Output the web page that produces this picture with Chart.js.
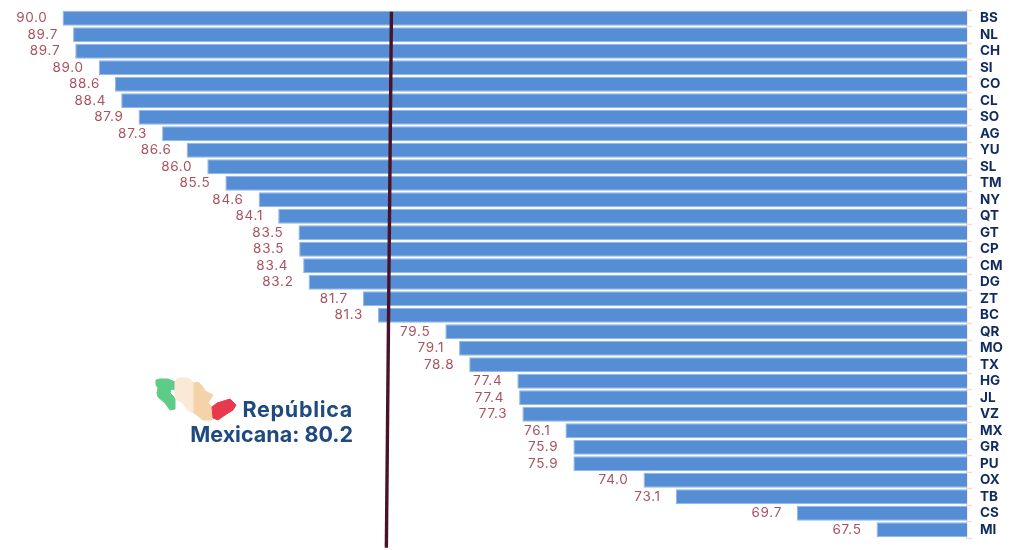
<!DOCTYPE html>
<html>
<head>
<meta charset="utf-8">
<title>República Mexicana</title>
<script src="https://cdn.jsdelivr.net/npm/chart.js@4/dist/chart.umd.min.js"></script>
<style>
html, body { margin: 0; padding: 0; background: #fff; }
#wrap { width: 1013px; height: 550px; }
</style>
</head>
<body>
<div id="wrap"><canvas id="myChart" width="1013" height="550"></canvas></div>
<script>
const categories = ['BS','NL','CH','SI','CO','CL','SO','AG','YU','SL','TM','NY','QT','GT','CP','CM','DG','ZT','BC','QR','MO','TX','HG','JL','VZ','MX','GR','PU','OX','TB','CS','MI'];
// bar lengths
const values = [90.0,89.71,89.65,89.0,88.55,88.38,87.9,87.25,86.57,86.0,85.5,84.58,84.04,83.48,83.46,83.35,83.2,81.7,81.28,79.42,79.04,78.76,77.43,77.38,77.29,76.1,75.88,75.88,73.94,73.05,69.7,67.5];
// numbers as printed beside the bars
const printed = ['90.0','89.7','89.7','89.0','88.6','88.4','87.9','87.3','86.6','86.0','85.5','84.6','84.1','83.5','83.5','83.4','83.2','81.7','81.3','79.5','79.1','78.8','77.4','77.4','77.3','76.1','75.9','75.9','74.0','73.1','69.7','67.5'];
// national reference line: value and category position of its two ends
const refX = [80.91, 81.05];
const refY = [-0.39, 32.09];

const fontName = 'Inter, "Open Sans", sans-serif';

// numbers at the left of each bar, and the reference line over the bars
const barExtras = {
    id: 'barExtras',
    afterDatasetsDraw(chart) {
        const c = chart.ctx;
        const bars = chart.getDatasetMeta(0).data;
        c.save();
        c.font = '13.5px ' + fontName;
        c.letterSpacing = '0.7px';
        c.fillStyle = '#a9525f';
        c.textAlign = 'right';
        c.textBaseline = 'middle';
        bars.forEach(function (b, i) {
            c.fillText(printed[i], b.x - 15, b.y);
        });
        c.restore();

        c.save();
        c.strokeStyle = '#4a1228';
        c.lineWidth = 3.4;
        c.beginPath();
        c.moveTo(chart.scales.x.getPixelForValue(refX[0]), chart.scales.y.getPixelForValue(refY[0]));
        c.lineTo(chart.scales.x.getPixelForValue(refX[1]), chart.scales.y.getPixelForValue(refY[1]));
        c.stroke();
        c.restore();
    }
};

// little map and the national figure
const nationalNote = {
    id: 'nationalNote',
    afterDraw(chart) {
        const c = chart.ctx;
        const shapes = [
            ['#5ecb87', [[156,380],[160,379],[168,379],[175,382],[175,390],[171,389],[170,393],[175,398],[175,409],[170,410],[165,403],[158,397],[157,393],[158,388],[156,385]]],
            ['#fbe9d7', [[175,382],[178,378],[188,378],[194,383],[194,413],[187,410],[183,403],[177,400],[175,398]]],
            ['#f4d3a8', [[194,383],[198,382],[203,387],[205,391],[213,395],[208,403],[212,407],[212,420],[203,420],[194,413]]],
            ['#e8394f', [[212,407],[217,403],[230,399],[236,405],[233,410],[225,415],[218,420],[213,418]]]
        ];
        c.save();
        shapes.forEach(function (s) {
            c.beginPath();
            s[1].forEach(function (p, i) {
                if (i === 0) c.moveTo(p[0], p[1]); else c.lineTo(p[0], p[1]);
            });
            c.closePath();
            c.fillStyle = s[0];
            c.strokeStyle = s[0];
            c.lineWidth = 1;
            c.lineJoin = 'round';
            c.fill();
            c.stroke();
        });
        c.font = 'bold 21.5px ' + fontName;
        c.fillStyle = '#1f4a80';
        c.textAlign = 'right';
        c.textBaseline = 'alphabetic';
        c.fillText('Mexicana: 80.2', 353, 442);
        c.letterSpacing = '0.7px';
        c.fillText('República', 353, 417);
        c.restore();
    }
};

let ctx = document.getElementById('myChart');

new Chart(ctx, {
    type: 'bar',
    data: {
        labels: categories,
        datasets: [{
            data: values,
            backgroundColor: '#558ed5',
            borderColor: '#8fb6e6',
            borderWidth: 1,
            barPercentage: 0.9,
            categoryPercentage: 1
        }]
    },
    options: {
        indexAxis: 'y',
        responsive: false,
        animation: false,
        layout: { padding: { top: 10, bottom: 12, left: 0, right: 0 } },
        plugins: { legend: { display: false }, tooltip: { enabled: false } },
        scales: {
            x: {
                display: false,
                reverse: true,
                min: 65,
                max: 91.73
            },
            y: {
                position: 'right',
                afterFit(scale) {
                    scale.width = 46;
                    scale.paddingTop = 0;
                    scale.paddingBottom = 0;
                },
                grid: {
                    drawOnChartArea: false,
                    color: '#f5d6da',
                    tickLength: 5,
                    tickWidth: 1.5
                },
                border: { color: '#f5d6da', width: 1.5 },
                ticks: {
                    autoSkip: false,
                    padding: 8,
                    color: '#10295f',
                    font: { family: fontName, weight: 'bold', size: 13.5 }
                }
            }
        }
    },
    plugins: [barExtras, nationalNote]
});
</script>
</body>
</html>
